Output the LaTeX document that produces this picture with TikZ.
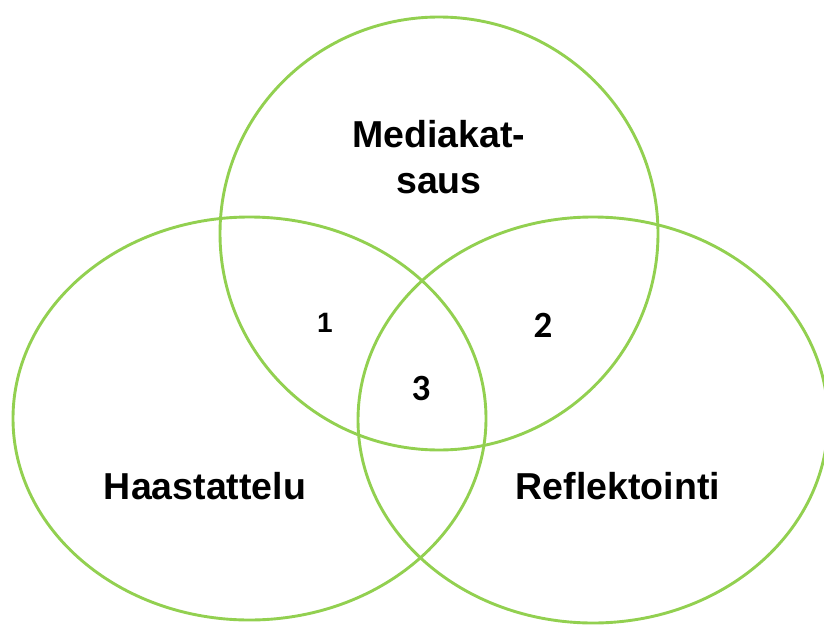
\documentclass[tikz,border=0pt]{standalone}
\usepackage{fontspec}
\setmainfont{Liberation Sans}
\newfontfamily\numfont{Carlito}
\definecolor{vgreen}{HTML}{92D050}
\begin{document}
\begin{tikzpicture}[x=1pt,y=-1pt,
  ring/.style={draw=vgreen,line width=2.9pt},
  lbl/.style={font=\fontsize{37.5}{44}\selectfont\bfseries,anchor=base,inner sep=0pt},
  num/.style={font=\numfont\fontsize{37}{40}\selectfont\bfseries,anchor=base,inner sep=0pt}]
\useasboundingbox (0,0) rectangle (824,626);
\begin{scope}
\clip (0,0) rectangle (824,626);
\draw[ring] (439,233.5) ellipse [x radius=219, y radius=216.5];
\draw[ring] (249.5,418.5) ellipse [x radius=236.5, y radius=201.5];
\draw[ring] (593,420) ellipse [x radius=235, y radius=203];
\end{scope}
\node[lbl] (m1) at (439,147) {Mediakat-};
\node[lbl] (m2) at (439,193) {saus};
\node[lbl] (h) at (205,499) {Haastattelu};
\node[lbl] (r) at (618,499) {Reflektointi};
\node[num,font=\fontsize{28}{30}\selectfont\bfseries] (n1) at (325,332.5) {1};
\node[num] (n2) at (543,337.5) {2};
\node[num] (n3) at (421,400) {3};
\end{tikzpicture}
\end{document}
